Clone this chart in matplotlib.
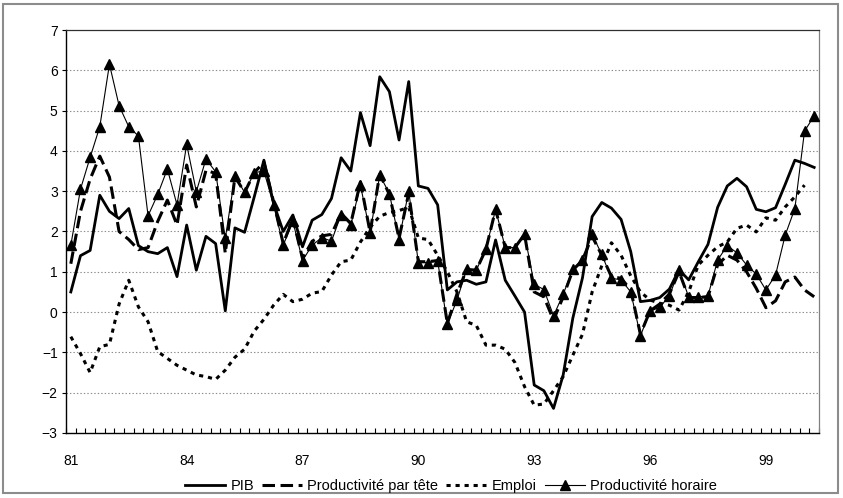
import numpy as np
import matplotlib
matplotlib.use("Agg")
import matplotlib.pyplot as plt
from matplotlib.patches import Rectangle

plt.rcParams['font.family'] = ['Liberation Sans', 'DejaVu Sans']
plt.rcParams['lines.scale_dashes'] = False

# Quarterly growth rates, 1981Q1 - 2000Q2 (%)
year_labels = ["81", "84", "87", "90", "93", "96", "99"]

pib = [0.5, 1.4, 1.53, 2.9, 2.5, 2.32, 2.57, 1.65, 1.5, 1.45,
       1.6, 0.88, 2.16, 1.04, 1.88, 1.7, 0.03, 2.09, 1.98, 2.86,
       3.77, 2.7, 2.0, 2.41, 1.62, 2.28, 2.42, 2.82, 3.83, 3.5,
       4.95, 4.13, 5.84, 5.47, 4.27, 5.72, 3.13, 3.07, 2.66, 0.55,
       0.75, 0.79, 0.69, 0.75, 1.79, 0.79, 0.4, 0.0, -1.81, -1.95,
       -2.39, -1.56, -0.15, 0.85, 2.37, 2.72, 2.58, 2.3, 1.5, 0.26,
       0.29, 0.36, 0.57, 1.05, 0.8, 1.25, 1.68, 2.6, 3.13, 3.32,
       3.11, 2.55, 2.49, 2.59, 3.17, 3.77, 3.69, 3.59]

prod_tete = [1.2, 2.5, 3.3, 3.87, 3.35, 2.0, 1.8, 1.55, 1.6, 2.25,
             2.78, 2.16, 3.65, 2.61, 3.52, 3.44, 1.46, 3.36, 2.97, 3.46,
             3.72, 2.74, 1.7, 2.32, 1.33, 1.76, 1.89, 1.93, 2.45, 2.2,
             3.23, 1.98, 3.42, 2.92, 1.83, 2.95, 1.25, 1.25, 1.28, -0.28,
             0.45, 1.06, 1.04, 1.56, 2.55, 1.6, 1.6, 1.93, 0.5, 0.38,
             -0.2, 0.38, 1.04, 1.29, 1.88, 1.41, 0.88, 0.84, 0.55, -0.55,
             0.03, 0.2, 0.45, 1.0, 0.36, 0.36, 0.38, 1.17, 1.41, 1.29,
             1.0, 0.59, 0.11, 0.28, 0.75, 0.87, 0.55, 0.38]

emploi = [-0.61, -1.03, -1.5, -0.86, -0.8, 0.2, 0.79, 0.13, -0.24, -0.98,
          -1.15, -1.32, -1.44, -1.56, -1.6, -1.67, -1.44, -1.12, -0.92, -0.47,
          -0.18, 0.17, 0.44, 0.26, 0.32, 0.47, 0.51, 0.92, 1.25, 1.29,
          1.74, 2.1, 2.38, 2.47, 2.52, 2.6, 1.84, 1.8, 1.41, 1.0,
          0.5, -0.24, -0.33, -0.82, -0.82, -0.92, -1.25, -1.85, -2.31, -2.28,
          -1.95, -1.6, -1.07, -0.55, 0.5, 1.15, 1.72, 1.41, 0.9, 0.5,
          0.3, 0.22, 0.17, 0.05, 0.5, 1.17, 1.41, 1.62, 1.74, 2.08,
          2.16, 1.99, 2.34, 2.28, 2.61, 2.86, 3.15, np.nan]

prod_horaire = [1.66, 3.05, 3.84, 4.6, 6.15, 5.12, 4.6, 4.37, 2.39, 2.92,
                3.55, 2.66, 4.16, 2.99, 3.8, 3.48, 1.83, 3.38, 2.97, 3.46,
                3.5, 2.66, 1.66, 2.25, 1.28, 1.66, 1.85, 1.76, 2.42, 2.16,
                3.15, 1.97, 3.4, 2.94, 1.8, 3.0, 1.23, 1.23, 1.27, -0.3,
                0.3, 1.06, 1.04, 1.56, 2.55, 1.6, 1.6, 1.93, 0.69, 0.56,
                -0.09, 0.44, 1.07, 1.29, 1.93, 1.43, 0.84, 0.8, 0.5, -0.59,
                0.02, 0.12, 0.4, 1.04, 0.38, 0.38, 0.4, 1.29, 1.65, 1.47,
                1.17, 0.94, 0.55, 0.92, 1.91, 2.57, 4.49, 4.87]

n = len(pib)
x = np.arange(n)

fig = plt.figure(figsize=(8.43, 4.98), dpi=100)
ax = fig.add_axes([66 / 843, 65 / 498, 753 / 843, 403 / 498])

# horizontal dotted gridlines
for v in range(-2, 7):
    ax.axhline(v, color='#8c8c8c', lw=0.8, ls=(0, (1, 1.5)), zorder=1)

ax.plot(x, pib, color='black', lw=2.0, zorder=3, label='PIB')
ax.plot(x, prod_tete, color='black', lw=2.2, dashes=(9, 4), zorder=3,
        label='Productivité par tête')
ax.plot(x, emploi, color='black', lw=2.2, dashes=(3, 3.5), zorder=3,
        label='Emploi')
ax.plot(x, prod_horaire, color='black', lw=0.8, marker='^', markersize=6.5,
        zorder=4, label='Productivité horaire')

ax.set_xlim(-0.5, n - 0.5)
ax.set_ylim(-3, 7)
ax.set_yticks(range(-3, 8))
ax.tick_params(axis='y', direction='out', length=3, width=0.8,
               labelsize=10, pad=3)

ax.set_xticks(np.arange(0, n, 12))
ax.set_xticklabels(year_labels)
ax.set_xticks(np.arange(-0.5, n, 1), minor=True)
ax.tick_params(axis='x', which='major', length=0, labelsize=10, pad=15)
ax.tick_params(axis='x', which='minor', direction='in', length=3.5,
               width=0.8)

for side in ('left', 'bottom'):
    ax.spines[side].set_color('black')
    ax.spines[side].set_linewidth(1.0)
ax.spines['top'].set_color('#303030')
ax.spines['top'].set_linewidth(0.9)
ax.spines['right'].set_color('#808080')
ax.spines['right'].set_linewidth(0.9)

handles, labels = ax.get_legend_handles_labels()
fig.legend(handles, labels, loc='center', bbox_to_anchor=(451 / 843, 12 / 498),
           ncol=4, frameon=False, fontsize=10.5, handlelength=2.75,
           handletextpad=0.35, columnspacing=0.55, borderaxespad=0)

# chart area frame
fig.patches.append(Rectangle((3 / 843, 5 / 498), 835 / 843, 489 / 498,
                             transform=fig.transFigure, fill=False,
                             edgecolor='#8c8c8c', lw=1.5))

fig.savefig('out.png', dpi=100)
